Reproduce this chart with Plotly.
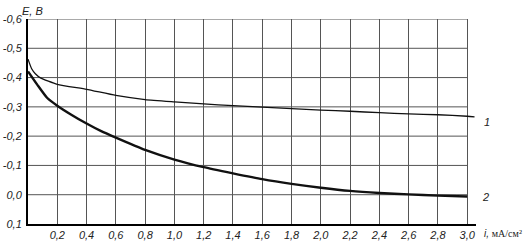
import plotly.graph_objects as go

# Data
x1 = [0.0, 0.025, 0.05, 0.085, 0.2, 0.4, 0.6, 0.8, 1.0, 1.2, 1.4, 1.6, 1.8, 2.0, 2.2, 2.4, 2.6, 2.8, 3.0, 3.05]
e1 = [-0.463, -0.43, -0.413, -0.399, -0.377, -0.36, -0.339, -0.325, -0.317, -0.31, -0.304, -0.299, -0.294, -0.289, -0.285, -0.28, -0.276, -0.273, -0.268, -0.266]

x2 = [0.0, 0.064, 0.13, 0.2, 0.29, 0.4, 0.5, 0.6, 0.8, 1.0, 1.2, 1.4, 1.6, 1.8, 2.0, 2.2, 2.4, 2.6, 2.8, 3.0]
e2 = [-0.421, -0.375, -0.331, -0.304, -0.275, -0.243, -0.217, -0.195, -0.153, -0.12, -0.094, -0.073, -0.053, -0.037, -0.024, -0.013, -0.006, -0.001, 0.003, 0.006]

x_ticks = [0.2, 0.4, 0.6, 0.8, 1.0, 1.2, 1.4, 1.6, 1.8, 2.0, 2.2, 2.4, 2.6, 2.8, 3.0]
x_tick_labels = ["0,2", "0,4", "0,6", "0,8", "1,0", "1,2", "1,4", "1,6", "1,8", "2,0", "2,2", "2,4", "2,6", "2,8", "3,0"]
y_ticks = [-0.6, -0.5, -0.4, -0.3, -0.2, -0.1, 0.0, 0.1]
y_tick_labels = ["-0,6", "-0,5", "-0,4", "-0,3", "-0,2", "-0,1", "0,0", "0,1"]

FONT = "Liberation Sans, Arial, sans-serif"

fig = go.Figure()
fig.add_trace(go.Scatter(x=x1, y=e1, mode="lines", line=dict(color="#111", width=1.3, shape="spline", smoothing=0.5), showlegend=False, hoverinfo="skip"))
fig.add_trace(go.Scatter(x=x2, y=e2, mode="lines", line=dict(color="#111", width=2.4, shape="spline", smoothing=0.5), showlegend=False, hoverinfo="skip"))

shapes = []
for yv in y_ticks[:-1]:
    shapes.append(dict(type="line", xref="x", yref="y", x0=0, x1=x_ticks[-1], y0=yv, y1=yv,
                       line=dict(color="#555", width=1), layer="below"))

fig.update_layout(
    width=524, height=245,
    margin=dict(l=28, r=48, t=19, b=21),
    paper_bgcolor="white", plot_bgcolor="white",
    font=dict(family=FONT, size=11, color="#222", style="italic"),
    shapes=shapes,
    xaxis=dict(range=[0, 3.06], tickvals=x_ticks, ticktext=x_tick_labels, automargin=False,
               showgrid=True, gridcolor="#555", gridwidth=1, zeroline=False,
               showline=True, linecolor="#000", linewidth=2, ticks="", ticklen=0, ticklabelstandoff=0,
               tickfont=dict(family=FONT, size=11, style="italic", color="#222")),
    yaxis=dict(range=[0.1, -0.6], tickvals=y_ticks, ticktext=y_tick_labels, automargin=False,
               showgrid=False, zeroline=False,
               showline=True, linecolor="#000", linewidth=2, ticks="", ticklen=0, ticklabelstandoff=2,
               tickfont=dict(family=FONT, size=11, style="italic", color="#222")),
    annotations=[
        dict(text="E, B", xref="paper", yref="paper", x=-0.018, y=1.0, xanchor="left", yanchor="bottom",
             showarrow=False, yshift=0, font=dict(family=FONT, size=11, style="italic", color="#222")),
        dict(text="<i>i,</i> <span style='font-family:Liberation Serif'>мА/см²</span>", xref="paper", yref="paper",
             x=1.0, y=0.0, xanchor="left", yanchor="top", xshift=6, yshift=-2,
             showarrow=False, font=dict(family=FONT, size=10, style="normal", color="#222")),
        dict(text="1", xref="paper", yref="y", x=1.0, y=-0.27, xanchor="left", yanchor="middle", xshift=6, yshift=-6,
             showarrow=False, font=dict(family=FONT, size=11, style="italic", color="#222")),
        dict(text="2", xref="paper", yref="y", x=1.0, y=0.007, xanchor="left", yanchor="middle", xshift=4,
             showarrow=False, font=dict(family=FONT, size=11, style="italic", color="#222")),
    ],
)

fig.write_html("out.html")
